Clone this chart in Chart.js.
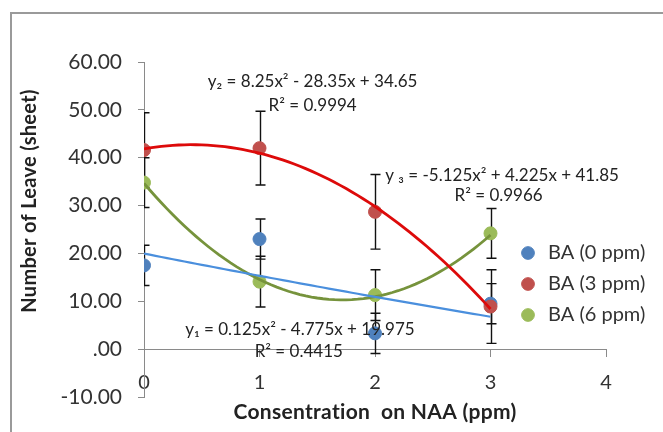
<!DOCTYPE html>
<html>
<head>
<meta charset="utf-8">
<script src="https://cdn.jsdelivr.net/npm/chart.js@4.4.1/dist/chart.umd.min.js"></script>
<style>
  html, body { margin: 0; padding: 0; background: #fff; }
  #wrap { position: relative; width: 663px; height: 432px; overflow: hidden; }
  #frame { position: absolute; left: 10px; top: 12px; width: 700px; height: 500px;
           border: 2px solid #9a9a9a; box-sizing: border-box; }
  canvas { position: absolute; left: 0; top: 0; }
</style>
</head>
<body>
<div id="wrap">
  <div id="frame"></div>
  <canvas id="chart" width="663" height="432"></canvas>
</div>
<script>
/* data */
const categories = [0, 1, 2, 3];          // NAA concentration (ppm)
const seriesNames = ["BA (0 ppm)", "BA (3 ppm)", "BA (6 ppm)"];
const ba0 = [17.5, 23.0, 3.3, 9.5];
const ba3 = [41.6, 42.0, 28.7, 8.9];
const ba6 = [34.8, 14.1, 11.3, 24.2];
const ba0Err = [4.2, 4.2, 4.2, 4.2];
const ba3Err = [7.8, 7.7, 7.8, 7.7];
const ba6Err = [5.2, 5.3, 5.3, 5.2];
// polynomial trendline coefficients (a, b, c) as printed on the chart
const fit0 = [0.125, -4.775, 19.975];
const fit3 = [-5.125, 4.225, 41.85];
const fit6 = [8.25, -28.35, 34.65];
const xTicks = [0, 1, 2, 3, 4];
const yTicks = [-10, 0, 10, 20, 30, 40, 50, 60];
const eqTexts = [
  "y\u2082 = 8.25x\u00b2 - 28.35x + 34.65", "R\u00b2 = 0.9994",
  "y \u2083 = -5.125x\u00b2 + 4.225x + 41.85", "R\u00b2 = 0.9966",
  "y\u2081 = 0.125x\u00b2 - 4.775x + 19.975", "R\u00b2 = 0.4415"
];
// where each label sits, in axis units
const eqAnchors = [[1.46, 55.9], [1.46, 50.9], [3.10, 36.3], [3.07, 32.1], [1.35, 4.0], [1.34, -0.6]];

const FONT = "Lato, 'Open Sans', sans-serif";
const pointColors = ["#4f81bd", "#c0504d", "#9bbb59"];
const lineColors = ["#4a8fdd", "#dd0a0a", "#76933c"];

function pts(vals) {
  return categories.map((c, i) => ({ x: c, y: vals[i] }));
}
function trend(coef) {
  const out = [];
  for (let k = 0; k <= 60; k++) {
    const x = k * 0.05;
    out.push({ x: x, y: coef[0] * x * x + coef[1] * x + coef[2] });
  }
  return out;
}

const errorBars = {
  id: "errorBars",
  beforeDatasetsDraw(chart) {
    const { ctx, chartArea, scales: { x, y } } = chart;
    const sets = [[ba0, ba0Err], [ba3, ba3Err], [ba6, ba6Err]];
    ctx.save();
    ctx.beginPath();
    ctx.rect(chartArea.left, chartArea.top, chartArea.right - chartArea.left, chartArea.bottom - chartArea.top);
    ctx.clip();
    ctx.strokeStyle = "#111";
    ctx.lineWidth = 1.4;
    sets.forEach(([vals, errs]) => {
      vals.forEach((v, i) => {
        const px = Math.round(x.getPixelForValue(categories[i])) + 0.5;
        const top = y.getPixelForValue(v + errs[i]);
        const bot = y.getPixelForValue(v - errs[i]);
        ctx.beginPath();
        ctx.moveTo(px, top); ctx.lineTo(px, bot);
        ctx.moveTo(px - 5, top); ctx.lineTo(px + 5, top);
        ctx.moveTo(px - 5, bot); ctx.lineTo(px + 5, bot);
        ctx.stroke();
      });
    });
    ctx.restore();
  }
};

const labelsPlugin = {
  id: "labelsPlugin",
  afterLayout(chart) {
    const lg = chart.legend;
    lg.left = 507; lg.top = 232;
    lg.right = lg.left + lg.width; lg.bottom = lg.top + lg.height;
  },
  afterDraw(chart) {
    const { ctx, chartArea, scales: { x, y } } = chart;
    ctx.save();
    ctx.fillStyle = "#222";
    ctx.textAlign = "center";
    ctx.textBaseline = "middle";
    ctx.font = "17px " + FONT;
    eqTexts.forEach((t, i) => {
      ctx.fillText(t, x.getPixelForValue(eqAnchors[i][0]), y.getPixelForValue(eqAnchors[i][1]));
    });
    // small letter spacing keeps Lato from joining "ti" into a ligature
    ctx.letterSpacing = "0.3px";
    ctx.font = "bold 21px " + FONT;
    ctx.fillText("Consentration  on NAA (ppm)", (chartArea.left + chartArea.right) / 2, 412);
    ctx.translate(30, 201);
    ctx.rotate(-Math.PI / 2);
    ctx.font = "bold 20px " + FONT;
    ctx.fillText("Number of Leave (sheet)", 0, 0);
    ctx.restore();
  }
};

const pointSets = [ba0, ba3, ba6].map((vals, i) => ({
  type: "scatter",
  label: seriesNames[i],
  data: pts(vals),
  backgroundColor: pointColors[i],
  borderColor: pointColors[i],
  borderWidth: 1,
  pointRadius: 6.5,
  pointHoverRadius: 6.5,
  order: 3 - i
}));
const trendSets = [fit0, fit3, fit6].map((coef, i) => ({
  type: "line",
  label: seriesNames[i] + " trend",
  data: trend(coef),
  borderColor: lineColors[i],
  borderWidth: i === 0 ? 2.2 : 2.8,
  pointRadius: 0,
  fill: false,
  tension: 0,
  order: 0
}));

new Chart(document.getElementById("chart"), {
  type: "scatter",
  data: { datasets: pointSets.concat(trendSets) },
  options: {
    responsive: false,
    animation: false,
    devicePixelRatio: 1,
    layout: { padding: { top: 62, left: 0, right: 57, bottom: 35 } },
    plugins: {
      legend: {
        position: "chartArea",
        align: "start",
        labels: {
          filter: (item) => item.datasetIndex < 3,
          sort: (a, b) => a.datasetIndex - b.datasetIndex,
          usePointStyle: true,
          pointStyle: "circle",
          boxHeight: 9,
          padding: 11,
          color: "#333",
          font: { family: FONT, size: 20 }
        }
      },
      tooltip: { enabled: false }
    },
    scales: {
      x: {
        type: "linear",
        position: { y: 0 },
        min: 0,
        max: 4,
        afterBuildTicks: (s) => { s.ticks = xTicks.map((v) => ({ value: v })); },
        ticks: {
          color: "#333",
          padding: 14,
          font: { family: FONT, size: 20 },
          callback: (v) => String(v)
        },
        grid: { drawOnChartArea: false, tickLength: 7, color: "#8a8a8a" },
        border: { color: "#8a8a8a", width: 1 }
      },
      y: {
        min: -10,
        max: 60,
        afterBuildTicks: (s) => { s.ticks = yTicks.map((v) => ({ value: v })); },
        afterFit: (s) => { s.width = 144; },
        ticks: {
          color: "#333",
          padding: 16,
          font: { family: FONT, size: 21 },
          callback: (v) => (v === 0 ? ".00" : v.toFixed(2))
        },
        grid: { drawOnChartArea: false, tickLength: 6, color: "#8a8a8a" },
        border: { color: "#8a8a8a", width: 1 }
      }
    }
  },
  plugins: [errorBars, labelsPlugin]
});
</script>
</body>
</html>
